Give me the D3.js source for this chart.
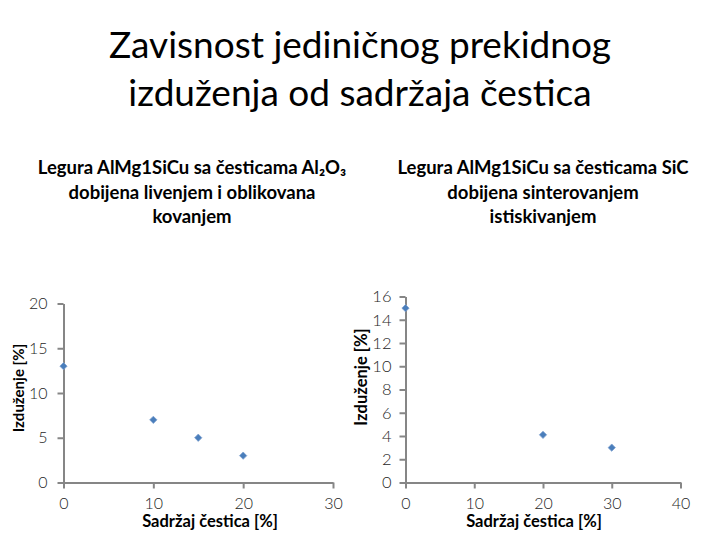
<!DOCTYPE html>
<html><head><meta charset="utf-8">
<script src="https://cdn.jsdelivr.net/npm/d3@7"></script>
<style>body{margin:0;background:#fff}svg{display:block}</style>
</head><body>
<script>
const title = ["Zavisnost jediničnog prekidnog", "izduženja od sadržaja čestica"];
const leftSubtitle = ["Legura AlMg1SiCu sa česticama Al₂O₃", "dobijena livenjem i oblikovana", "kovanjem"];
const rightSubtitle = ["Legura AlMg1SiCu sa česticama SiC", "dobijena sinterovanjem", "istiskivanjem"];
const xTitle = "Sadržaj čestica [%]";
const yTitle = "Izduženje [%]";

const leftX = [0, 10, 15, 20];
const leftY = [13, 7, 5, 3];
const leftXTicks = [0, 10, 20, 30];
const leftYTicks = [0, 5, 10, 15, 20];

const rightX = [0, 20, 30];
const rightY = [15, 4.1, 3];
const rightXTicks = [0, 10, 20, 30, 40];
const rightYTicks = [0, 2, 4, 6, 8, 10, 12, 14, 16];

const W = 720, H = 540;
const svg = d3.select("body").append("svg").attr("width", W).attr("height", H);
const FONT = "Lato, 'Open Sans', sans-serif";

svg.append("text").attr("text-anchor", "middle")
  .style("font-family", FONT).style("font-size", "37px").attr("fill", "#000")
  .selectAll("tspan").data(title).join("tspan")
  .attr("x", 360).attr("y", (d, i) => 58 + i * 48).text(d => d);

function subtitle(lines, cx) {
  const t = svg.append("text").attr("text-anchor", "middle")
    .style("font-family", FONT).style("font-size", "18.5px").style("font-weight", "bold").attr("fill", "#000");
  t.selectAll("tspan").data(lines).join("tspan")
    .attr("x", cx).attr("y", (d, i) => 174 + i * 24.5).text(d => d);
}
subtitle(leftSubtitle, 192);
subtitle(rightSubtitle, 543);

function panel(cfg) {
  const x = d3.scaleLinear().domain(cfg.xDomain).range(cfg.xRange);
  const y = d3.scaleLinear().domain(cfg.yDomain).range(cfg.yRange);
  const g = svg.append("g");
  const axCol = "#868686";
  const xa = g.append("g").attr("transform", `translate(0,${cfg.yRange[0]})`)
    .call(d3.axisBottom(x).tickValues(cfg.xTicks).tickSize(6).tickSizeOuter(0).tickPadding(9));
  const ya = g.append("g").attr("transform", `translate(${cfg.xRange[0]},0)`)
    .call(d3.axisLeft(y).tickValues(cfg.yTicks).tickSize(6).tickSizeOuter(0).tickPadding(cfg.yPad));
  [xa, ya].forEach(a => {
    a.select(".domain").attr("stroke", axCol).attr("stroke-width", 2);
    a.selectAll(".tick line").attr("stroke", axCol).attr("stroke-width", 2);
    a.selectAll(".tick text").attr("fill", "#262626").style("font-family", FONT)
      .style("font-weight", "300").style("font-size", cfg.fs + "px");
  });
  xa.selectAll(".tick text").attr("dy", "0.71em").style("font-size", "16px");
  const sym = d3.symbol().type(d3.symbolDiamond2).size(34);
  g.selectAll("path.pt").data(cfg.xs.map((v, i) => [v, cfg.ys[i]])).join("path")
    .attr("class", "pt").attr("d", sym)
    .attr("transform", d => `translate(${x(d[0])},${y(d[1])})`)
    .attr("fill", "#4a7ebb").attr("stroke", "#7fa1cf").attr("stroke-width", 0.8);
  svg.append("text").attr("x", cfg.xtx).attr("y", 527).attr("text-anchor", "middle")
    .style("font-family", FONT).style("font-size", "16.5px").style("font-weight", "bold")
    .attr("fill", "#000").text(xTitle);
  svg.append("text").attr("transform", `translate(${cfg.ytx},${cfg.yty}) rotate(-90)`)
    .attr("text-anchor", "middle")
    .style("font-family", FONT).style("font-size", cfg.ytfs + "px").style("font-weight", "bold")
    .attr("fill", "#000").text(yTitle);
}

panel({xs: leftX, ys: leftY, xTicks: leftXTicks, yTicks: leftYTicks,
  xDomain: [0, 30], yDomain: [0, 20], xRange: [63.5, 333], yRange: [482.5, 303.5],
  fs: 16, yPad: 10, xtx: 210, ytx: 24, yty: 388, ytfs: 15});
panel({xs: rightX, ys: rightY, xTicks: rightXTicks, yTicks: rightYTicks,
  xDomain: [0, 40], yDomain: [0, 16], xRange: [405.5, 680.5], yRange: [482.5, 296.5],
  fs: 16.5, yPad: 8, xtx: 534, ytx: 367, yty: 377, ytfs: 16.5});
</script>
</body></html>
